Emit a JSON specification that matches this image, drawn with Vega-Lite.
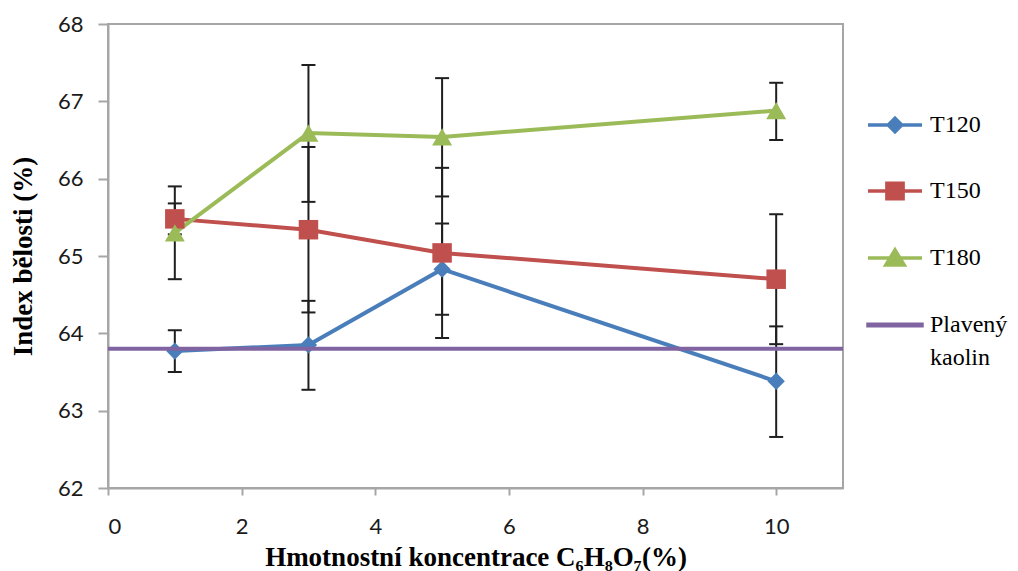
{
  "$schema": "https://vega.github.io/schema/vega-lite/v6.json",
  "width": 735,
  "height": 464,
  "autosize": {"type": "none"},
  "padding": {"left": 108, "top": 24, "right": 175, "bottom": 83},
  "background": "white",
  "config": {
    "view": {"stroke": "#a6a6a6", "strokeWidth": 2},
    "axis": {
      "grid": false,
      "domainColor": "#a6a6a6",
      "domainWidth": 2,
      "tickColor": "#a6a6a6",
      "tickWidth": 2,
      "labelFont": "Lato",
      "labelFontSize": 22,
      "labelColor": "#1a1a1a",
      "titleFont": "Liberation Serif",
      "titleFontWeight": "bold",
      "titleFontSize": 27,
      "titleColor": "#000000"
    },
    "legend": {
      "orient": "none",
      "legendX": 758,
      "legendY": 72,
      "padding": 0,
      "symbolSize": 2916,
      "symbolStrokeWidth": 3.5,
      "rowPadding": 23,
      "labelOffset": 6,
      "labelFont": "Liberation Serif",
      "labelFontSize": 24,
      "labelColor": "#000000",
      "labelLimit": 300
    }
  },
  "datasets": {
    "pts": [
      {"series": "T120", "x": 1, "y": 63.77, "lo": 63.50, "hi": 64.04},
      {"series": "T120", "x": 3, "y": 63.85, "lo": 63.27, "hi": 64.42},
      {"series": "T120", "x": 5, "y": 64.83, "lo": 64.24, "hi": 65.42},
      {"series": "T120", "x": 10, "y": 63.38, "lo": 62.66, "hi": 64.09},
      {"series": "T150", "x": 1, "y": 65.48, "lo": 65.28, "hi": 65.68},
      {"series": "T150", "x": 3, "y": 65.34, "lo": 64.27, "hi": 66.41},
      {"series": "T150", "x": 5, "y": 65.04, "lo": 63.94, "hi": 66.14},
      {"series": "T150", "x": 10, "y": 64.70, "lo": 63.86, "hi": 65.54},
      {"series": "T180", "x": 1, "y": 65.30, "lo": 64.70, "hi": 65.90},
      {"series": "T180", "x": 3, "y": 66.59, "lo": 65.70, "hi": 67.47},
      {"series": "T180", "x": 5, "y": 66.54, "lo": 65.77, "hi": 67.30},
      {"series": "T180", "x": 10, "y": 66.88, "lo": 66.50, "hi": 67.24}
    ],
    "kaolin": [{"series": "Plavený kaolin", "y": 63.8}]
  },
  "encoding": {
    "x": {
      "field": "x",
      "type": "quantitative",
      "scale": {"domain": [0, 11], "nice": false},
      "axis": {"values": [0, 2, 4, 6, 8, 10], "tickSize": 7, "labelPadding": 21, "title": "Hmotnostní koncentrace C₆H₈O₇(%)", "titlePadding": 7}
    },
    "y": {
      "field": "y",
      "type": "quantitative",
      "scale": {"domain": [62, 68], "nice": false, "zero": false},
      "axis": {"values": [62, 63, 64, 65, 66, 67, 68], "tickSize": 10, "labelPadding": 15, "title": "Index bělosti (%)", "titlePadding": 20}
    }
  },
  "layer": [
    {
      "data": {"name": "pts"},
      "mark": {"type": "rule", "color": "#1f1f1f", "strokeWidth": 2},
      "encoding": {"y": {"field": "lo", "type": "quantitative"}, "y2": {"field": "hi"}}
    },
    {
      "data": {"name": "pts"},
      "mark": {"type": "tick", "orient": "horizontal", "color": "#1f1f1f", "size": 14, "thickness": 2, "opacity": 1},
      "encoding": {"y": {"field": "lo", "type": "quantitative"}}
    },
    {
      "data": {"name": "pts"},
      "mark": {"type": "tick", "orient": "horizontal", "color": "#1f1f1f", "size": 14, "thickness": 2, "opacity": 1},
      "encoding": {"y": {"field": "hi", "type": "quantitative"}}
    },
    {
      "data": {"name": "pts"},
      "mark": {"type": "line", "strokeWidth": 4},
      "encoding": {
        "color": {"field": "series", "type": "nominal", "scale": {"domain": ["T120", "T150", "T180", "Plavený kaolin"], "range": ["#4a7ebb", "#c0504d", "#9bbb59", "#8064a2"]}}
      }
    },
    {
      "data": {"name": "pts"},
      "transform": [{"filter": "datum.series == 'T120'"}],
      "mark": {"type": "point", "shape": "diamond", "filled": true, "size": 300, "opacity": 1},
      "encoding": {"color": {"field": "series", "type": "nominal"}}
    },
    {
      "data": {"name": "pts"},
      "transform": [{"filter": "datum.series == 'T150'"}],
      "mark": {"type": "point", "shape": "square", "filled": true, "size": 380, "opacity": 1},
      "encoding": {"color": {"field": "series", "type": "nominal"}}
    },
    {
      "data": {"name": "pts"},
      "transform": [{"filter": "datum.series == 'T180'"}],
      "mark": {"type": "point", "shape": "triangle-up", "filled": true, "size": 400, "opacity": 1},
      "encoding": {"color": {"field": "series", "type": "nominal"}}
    },
    {
      "data": {"name": "pts"},
      "mark": {"type": "point", "filled": true, "opacity": 0},
      "encoding": {
        "color": {
          "field": "series",
          "type": "nominal",
          "legend": {
            "title": null,
            "labelFont": "Liberation Serif",
            "labelFontSize": 24,
            "labelExpr": "datum.label == 'Plavený kaolin' ? ['Plavený', 'kaolin'] : datum.label",
            "encode": {
              "symbols": {
                "update": {
                  "fill": {"scale": "color", "field": "value"},
                  "stroke": {"scale": "color", "field": "value"},
                  "strokeWidth": {"value": 3.5},
                  "opacity": {"value": 1},
                  "fillOpacity": {"value": 1},
                  "strokeOpacity": {"value": 1}
                }
              },
              "labels": {
                "update": {
                  "lineHeight": {"value": 33},
                  "font": {"value": "Liberation Serif"}
                }
              }
            }
          }
        },
        "shape": {
          "field": "series",
          "type": "nominal",
          "scale": {
            "domain": ["T120", "T150", "T180", "Plavený kaolin"],
            "range": [
              "M-1,0H1M-0.25,0L0,-0.25L0.25,0L0,0.25Z",
              "M-1,0H1M-0.3,-0.29H0.3V0.29H-0.3Z",
              "M-1,0H1M0,-0.3L0.34,0.26H-0.34Z",
              "M-1,-0.03H1V0.03H-1Z"
            ]
          },
          "legend": {"title": null}
        }
      }
    },
    {
      "data": {"name": "kaolin"},
      "mark": {"type": "rule", "strokeWidth": 4},
      "encoding": {
        "x": null,
        "y": {"field": "y", "type": "quantitative"},
        "color": {"field": "series", "type": "nominal"}
      }
    }
  ]
}
